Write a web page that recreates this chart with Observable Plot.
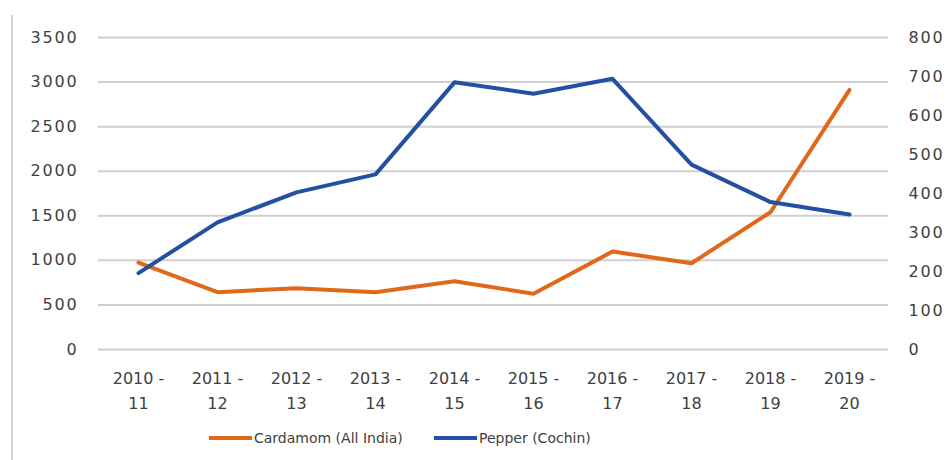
<!DOCTYPE html>
<html>
<head>
<meta charset="utf-8">
<script src="https://cdn.jsdelivr.net/npm/d3@7"></script>
<script src="https://cdn.jsdelivr.net/npm/@observablehq/plot@0.6"></script>
<style>
  html, body { margin: 0; padding: 0; background: #fff; }
  #wrap { position: relative; width: 947px; height: 460px; overflow: hidden; }
  #border { position: absolute; left: 11px; top: 15px; width: 2px; height: 445px; background: #d4d4d4; }
  #chart { position: absolute; left: 0; top: 0; }
  #legend { position: absolute; left: 0; top: 427px; width: 947px; height: 22px;
    font-family: "DejaVu Sans", Verdana, sans-serif; font-size: 14px; color: #404040; }
  .item { position: absolute; top: 0; display: flex; align-items: center; height: 22px; white-space: nowrap; }
  .sw { display: inline-block; width: 43px; height: 4px; margin-right: 2px; }
  g[aria-label="x-axis tick label"] { letter-spacing: 0px; font-size: 16px; }
</style>
</head>
<body>
<div id="wrap">
  <div id="border"></div>
  <div id="chart"></div>
  <div id="legend"></div>
</div>
<script>
const years = ["2010 -\n11","2011 -\n12","2012 -\n13","2013 -\n14","2014 -\n15","2015 -\n16","2016 -\n17","2017 -\n18","2018 -\n19","2019 -\n20"];
const cardamom = [975, 643, 688, 643, 766, 625, 1099, 968, 1540, 2913];
const pepper = [196, 326, 403, 449, 685, 656, 694, 474, 378, 346];
const leftTicks = [0, 500, 1000, 1500, 2000, 2500, 3000, 3500];
const rightTicks = [0, 100, 200, 300, 400, 500, 600, 700, 800];
const seriesNames = ["Cardamom (All India)", "Pepper (Cochin)"];
const seriesColors = ["#E0681A", "#2450A4"];

const leftMax = 3500, rightMax = 800;
const k = leftMax / rightMax;

const rows = [];
years.forEach((y, i) => {
  rows.push({year: y, value: cardamom[i], series: seriesNames[0]});
  rows.push({year: y, value: pepper[i] * k, series: seriesNames[1]});
});

const font = "DejaVu Sans, Verdana, sans-serif";
const chart = Plot.plot({
  width: 947,
  height: 415,
  marginTop: 37,
  marginBottom: 66,
  marginLeft: 98,
  marginRight: 59,
  style: {fontFamily: font, fontSize: "16px", color: "#404040", background: "transparent", letterSpacing: "1.8px"},
  x: {type: "point", domain: years, padding: 0.5},
  y: {domain: [0, leftMax]},
  color: {domain: seriesNames, range: seriesColors},
  marks: [
    Plot.ruleY(leftTicks, {stroke: "#cfcfcf", strokeWidth: 2}),
    Plot.axisY(leftTicks, {anchor: "left", tickSize: 0, tickPadding: 20, label: null, fill: "#404040",
      tickFormat: d => String(d)}),
    Plot.axisY(rightTicks.map(d => d * k), {anchor: "right", tickSize: 0, tickPadding: 20, label: null, fill: "#404040",
      textAnchor: "start", tickFormat: d => String(Math.round(d / k))}),
    Plot.axisX({tickSize: 0, tickPadding: 17, label: null, lineHeight: 1.56, fill: "#404040"}),
    Plot.line(rows, {x: "year", y: "value", z: "series", stroke: "series", strokeWidth: 4, strokeLinejoin: "round", strokeLinecap: "round"})
  ]
});
document.getElementById("chart").appendChild(chart);

const legend = document.getElementById("legend");
const lefts = [209, 434];
seriesNames.forEach((name, i) => {
  const item = document.createElement("div");
  item.className = "item";
  item.style.left = lefts[i] + "px";
  const sw = document.createElement("span");
  sw.className = "sw";
  sw.style.background = seriesColors[i];
  const t = document.createElement("span");
  t.textContent = name;
  item.appendChild(sw);
  item.appendChild(t);
  legend.appendChild(item);
});
</script>
</body>
</html>
